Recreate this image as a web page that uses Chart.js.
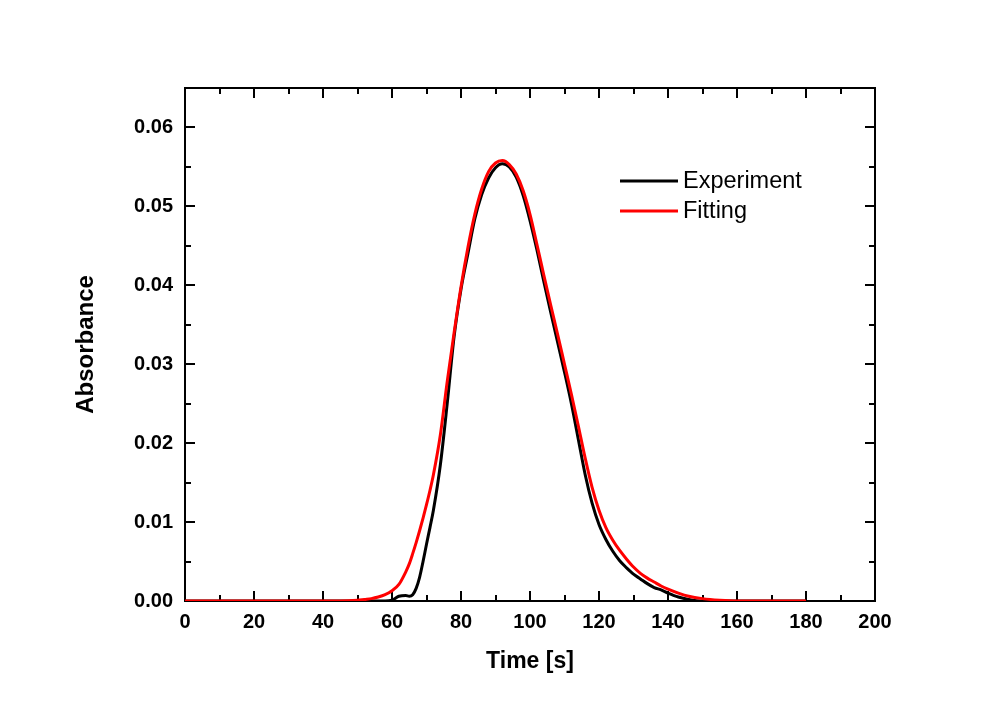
<!DOCTYPE html>
<html>
<head>
<meta charset="utf-8">
<script src="https://cdn.jsdelivr.net/npm/chart.js@4"></script>
<style>
  html, body { margin: 0; padding: 0; background: #fff; }
  #wrap { width: 997px; height: 709px; }
</style>
</head>
<body>
<div id="wrap"><canvas id="absChart" width="997" height="709"></canvas></div>
<script>
// time axis (s) shared by both series
const tempo = [0, 10, 20, 30, 40, 45, 50, 52, 54, 56, 58, 60, 62, 64, 65, 66, 67, 68, 69, 70, 71, 72, 74, 76, 78, 80, 82, 84, 86, 88, 90, 92, 94, 96, 98, 100, 102, 104, 106, 108, 110, 112, 114, 116, 118, 120, 122, 124, 126, 128, 130, 132, 134, 136, 138, 140, 143, 146, 150, 155, 160, 170, 180];

const experimento = [0, 0, 0, 0, 0, 0, 0, 0, 0, 0, 0, 0.0001, 0.0006, 0.0007, 0.0006, 0.0008, 0.0016, 0.0030, 0.0050, 0.0072, 0.0093, 0.0115, 0.0172, 0.0250, 0.0335, 0.0395, 0.0440, 0.0484, 0.0515, 0.0536, 0.0549, 0.0554, 0.0550, 0.0537, 0.0514, 0.0482, 0.0445, 0.0405, 0.0366, 0.0328, 0.0290, 0.0250, 0.0205, 0.0160, 0.0124, 0.0097, 0.0078, 0.0063, 0.0051, 0.0042, 0.0034, 0.0028, 0.0022, 0.0017, 0.0014, 0.0010, 0.0005, 0.0002, 0, 0, 0, 0, 0];

const ajuste = [0, 0, 0, 0, 0, 0, 0.0001, 0.0002, 0.0003, 0.0005, 0.0008, 0.0013, 0.0021, 0.0037, 0.0047, 0.0060, 0.0074, 0.0089, 0.0105, 0.0122, 0.0140, 0.0160, 0.0210, 0.0278, 0.0340, 0.0398, 0.0448, 0.0490, 0.0522, 0.0544, 0.0555, 0.0558, 0.0553, 0.0541, 0.0520, 0.0490, 0.0452, 0.0413, 0.0375, 0.0338, 0.0300, 0.0262, 0.0222, 0.0181, 0.0144, 0.0115, 0.0093, 0.0077, 0.0064, 0.0053, 0.0043, 0.0035, 0.0029, 0.0024, 0.0019, 0.0015, 0.0010, 0.0006, 0.0003, 0.0001, 0, 0, 0];

const xTicksMaiores = [0, 20, 40, 60, 80, 100, 120, 140, 160, 180, 200];
const yTicksMaiores = [0, 0.01, 0.02, 0.03, 0.04, 0.05, 0.06];

const FONTE = "'Liberation Sans', Arial, sans-serif";

function pontos(ys) {
  return tempo.map((t, i) => ({ x: t, y: ys[i] }));
}

function ehMaiorY(v) {
  return yTicksMaiores.some(m => Math.abs(m - v) < 1e-6);
}

// frame with inward ticks on all four sides
const molduraPlugin = {
  id: 'moldura',
  beforeDatasetsDraw(chart) {
    const { ctx, chartArea: a, scales } = chart;
    ctx.save();
    ctx.strokeStyle = '#000';
    ctx.lineWidth = 2;
    ctx.strokeRect(a.left, a.top, a.right - a.left, a.bottom - a.top);
    scales.x.ticks.forEach(t => {
      const px = Math.round(scales.x.getPixelForValue(t.value));
      const len = xTicksMaiores.includes(Math.round(t.value)) ? 10 : 6;
      ctx.beginPath();
      ctx.moveTo(px, a.bottom); ctx.lineTo(px, a.bottom - len);
      ctx.moveTo(px, a.top); ctx.lineTo(px, a.top + len);
      ctx.stroke();
    });
    scales.y.ticks.forEach(t => {
      const py = Math.round(scales.y.getPixelForValue(t.value));
      const len = ehMaiorY(t.value) ? 10 : 6;
      ctx.beginPath();
      ctx.moveTo(a.left, py); ctx.lineTo(a.left + len, py);
      ctx.moveTo(a.right, py); ctx.lineTo(a.right - len, py);
      ctx.stroke();
    });
    ctx.restore();
  },
  afterDatasetsDraw(chart) {
    // legend inside the plot, upper right
    const { ctx, chartArea: a } = chart;
    const x0 = a.right - 255;
    let y = a.top + 93;
    ctx.save();
    ctx.font = '23.5px ' + FONTE;
    ctx.textBaseline = 'middle';
    ctx.textAlign = 'left';
    ['Experiment', 'Fitting'].forEach(nome => {
      const ds = chart.data.datasets.find(d => d.label === nome);
      ctx.strokeStyle = ds.borderColor;
      ctx.lineWidth = 3;
      ctx.beginPath();
      ctx.moveTo(x0, y); ctx.lineTo(x0 + 58, y);
      ctx.stroke();
      ctx.fillStyle = '#000';
      ctx.fillText(nome, x0 + 63, y + 1);
      y += 30;
    });
    ctx.restore();
  }
};

new Chart(document.getElementById('absChart'), {
  type: 'line',
  data: {
    datasets: [
      {
        label: 'Experiment',
        data: pontos(experimento),
        borderColor: '#000000',
        borderWidth: 3,
        pointRadius: 0,
        cubicInterpolationMode: 'monotone',
        fill: false,
        order: 1
      },
      {
        label: 'Fitting',
        data: pontos(ajuste),
        borderColor: '#ff0000',
        borderWidth: 3,
        pointRadius: 0,
        cubicInterpolationMode: 'monotone',
        fill: false,
        order: 0
      }
    ]
  },
  options: {
    responsive: false,
    animation: false,
    devicePixelRatio: 1,
    layout: { padding: { left: 0, top: 88, right: 122, bottom: 0 } },
    plugins: {
      legend: { display: false },
      tooltip: { enabled: false }
    },
    scales: {
      x: {
        type: 'linear',
        min: 0,
        max: 200,
        grid: { display: false, drawTicks: false },
        border: { display: false },
        ticks: {
          stepSize: 10,
          autoSkip: false,
          maxRotation: 0,
          padding: 9,
          color: '#000',
          font: { family: FONTE, size: 20, weight: 'bold' },
          callback: v => xTicksMaiores.includes(Math.round(v)) ? String(Math.round(v)) : ''
        },
        title: {
          display: true,
          text: 'Time [s]',
          color: '#000',
          font: { family: FONTE, size: 23, weight: 'bold' },
          padding: { top: 0, bottom: 34 }
        },
        afterFit: s => { s.height = 108; }
      },
      y: {
        min: 0,
        max: 0.065,
        grid: { display: false, drawTicks: false },
        border: { display: false },
        ticks: {
          stepSize: 0.005,
          autoSkip: false,
          padding: 12,
          color: '#000',
          font: { family: FONTE, size: 20, weight: 'bold' },
          callback: v => ehMaiorY(v) ? v.toFixed(2) : ''
        },
        title: {
          display: true,
          text: 'Absorbance',
          color: '#000',
          font: { family: FONTE, size: 24, weight: 'bold' },
          padding: { top: 72, bottom: 0 }
        },
        afterFit: s => { s.width = 185; }
      }
    }
  },
  plugins: [molduraPlugin]
});
</script>
</body>
</html>
